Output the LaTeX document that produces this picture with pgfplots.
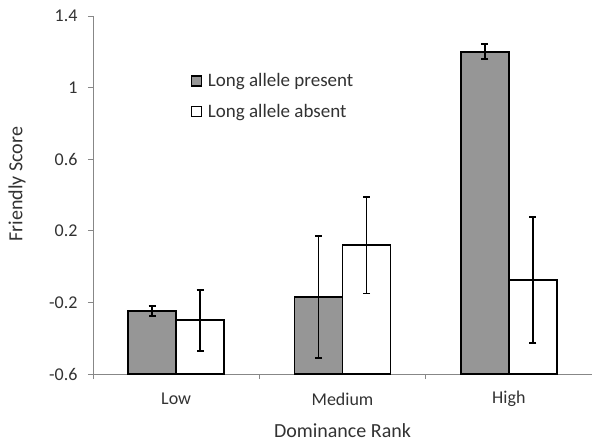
\documentclass[border=0pt]{standalone}
\usepackage{fontspec}
\setmainfont{Carlito}
\usepackage{pgfplots}
\pgfplotsset{compat=1.18}
\usepackage{pgfplotstable}
\definecolor{barGray}{RGB}{150,150,150}
\definecolor{axGray}{RGB}{135,135,135}
\definecolor{txt}{RGB}{50,50,50}

% values (Friendly Score); bars start at the axis floor -0.6
\pgfplotstableread{
x y e
0.5 -0.25 0.028
1.5 -0.17 0.34
2.5 1.20 0.042
}\present
\pgfplotstableread{
x y e
0.5 -0.30 0.17
1.5 0.12 0.27
2.5 -0.075 0.35
}\absent

\begin{document}
\begin{tikzpicture}
\path[use as bounding box] (-93bp,-68bp) rectangle (499bp,374bp);
\begin{axis}[
  at={(0,0)}, anchor=south west,
  scale only axis, width=499bp, height=358bp,
  xmin=0, xmax=3, ymin=0, ymax=2,
  axis x line=bottom, axis y line=left,
  axis line style={-, axGray, line width=1pt},
  tick style={axGray, line width=0.8pt},
  tick align=outside, major tick length=5bp,
  xtick={0,1,2,3}, xticklabels={Low,Medium,High},
  x tick label as interval,
  ytick={0,0.4,0.8,1.2,1.6,2},
  yticklabels={-0.6,-0.2,0.2,0.6,1,1.4},
  ticklabel style={font=\fontsize{18bp}{21bp}\selectfont, text=txt},
  xticklabel style={anchor=center, yshift=-20bp},
  yticklabel style={xshift=-7bp},
  every axis y label/.style={at={(rel axis cs:0,0.53)}, xshift=-76bp, rotate=90, anchor=center, font=\fontsize{20bp}{24bp}\selectfont, text=txt},
  every axis x label/.style={at={(rel axis cs:0.5,0)}, yshift=-57bp, anchor=center, font=\fontsize{20bp}{24bp}\selectfont, text=txt},
  ylabel={Friendly Score}, xlabel={Dominance Rank},
  ybar=0pt, bar width=48bp,
  legend style={at={(rel axis cs:0.195,0.845)}, anchor=north west, draw=none, fill=none,
    font=\fontsize{19bp}{22bp}\selectfont, text=txt, row sep=12bp, inner sep=0pt},
  legend cell align=left,
  legend image code/.code={\draw[#1, line width=1.4pt] (0bp,-5bp) rectangle (10bp,5bp);},
]
\addplot[fill=barGray, draw=black, line width=2pt,
  error bars/.cd, y dir=both, y explicit,
  error bar style={black, line width=1.8pt},
  error mark options={rotate=90, mark size=3.5bp, black, line width=1.8pt}]
  table[x=x, y expr=\thisrow{y}+0.6, y error=e] {\present};
\addplot[fill=white, draw=black, line width=2pt,
  error bars/.cd, y dir=both, y explicit,
  error bar style={black, line width=1.8pt},
  error mark options={rotate=90, mark size=3.5bp, black, line width=1.8pt}]
  table[x=x, y expr=\thisrow{y}+0.6, y error=e] {\absent};
\legend{\hspace{4bp}Long allele present, \hspace{4bp}Long allele absent}
\end{axis}
\end{tikzpicture}
\end{document}
